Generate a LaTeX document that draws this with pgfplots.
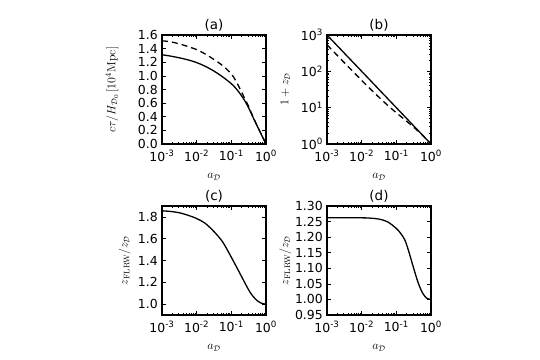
\documentclass[border=0pt]{standalone}
\usepackage[no-math]{fontspec}
\setmainfont{DejaVu Sans}
\usepackage{pgfplots}
\pgfplotsset{compat=1.18}
\pgfplotsset{
 myax/.style={
  scale only axis, width=104bp, height=109bp, anchor=south west,
  xmin=1e-3, xmax=1,
  xtick={1e-3,1e-2,1e-1,1},
  xticklabels={10\textsuperscript{-3},10\textsuperscript{-2},10\textsuperscript{-1},10\textsuperscript{0}},
  minor xtick={0.002,0.003,0.004,0.005,0.006,0.007,0.008,0.009,0.02,0.03,0.04,0.05,0.06,0.07,0.08,0.09,0.2,0.3,0.4,0.5,0.6,0.7,0.8,0.9},
  tick label style={font=\fontsize{12.5}{14}\selectfont, inner sep=0.5bp},
  xticklabel style={yshift=-5.5bp},
  yticklabel style={xshift=-3.5bp},
  major tick length=4bp, minor tick length=2bp,
  tick align=inside,
  axis line style={line width=1.1bp},
  every tick/.style={black, line width=0.7bp},
  title style={font=\fontsize{13.5}{15}\selectfont, at={(0.5,1)}, anchor=south, yshift=-6bp},
  xlabel={$a_{\mathcal{D}}$},
  xlabel style={at={(axis description cs:0.5,-0.30)}, anchor=center, font=\fontsize{12}{14}\selectfont},
  ylabel style={anchor=center, font=\fontsize{12}{14}\selectfont},
  cycle list={{black, mark=none}},
  every axis plot/.append style={line width=1.3bp, smooth, tension=0.5},
 },
}
\tikzset{dsh/.style={dash pattern=on 6bp off 4bp}}
\begin{document}
\begin{tikzpicture}
\path[use as bounding box] (0,0) rectangle (540bp,360bp);
% (a)
\begin{semilogxaxis}[myax, at={(162bp,216bp)}, title={(a)},
  ymin=0, ymax=1.6, ytick={0,0.2,0.4,0.6,0.8,1.0,1.2,1.4,1.6},
  yticklabels={0.0,0.2,0.4,0.6,0.8,1.0,1.2,1.4,1.6},
  ylabel={$c\tau/H_{\mathcal{D}_0}\,[10^4\mathrm{Mpc}]$},
  ylabel style={at={(axis description cs:-0.48,0.5)}}]
\addplot coordinates {(0.001,1.31) (0.001778,1.29) (0.003162,1.265) (0.005623,1.235) (0.01,1.195) (0.01778,1.14) (0.03162,1.07) (0.05623,0.985) (0.1,0.885) (0.1334,0.82) (0.1778,0.74) (0.2371,0.645) (0.3162,0.53) (0.3981,0.42) (0.5623,0.26) (0.7499,0.13) (1,0)};
\addplot+[dsh] coordinates {(0.001,1.515) (0.001778,1.50) (0.003162,1.47) (0.005623,1.43) (0.01,1.385) (0.01778,1.32) (0.03162,1.24) (0.05623,1.15) (0.1,1.03) (0.1334,0.93) (0.1778,0.81) (0.2371,0.68) (0.3162,0.55) (0.3981,0.43) (0.5623,0.26) (0.7499,0.13) (1,0)};
\end{semilogxaxis}
% (b)
\begin{loglogaxis}[myax, at={(327bp,216bp)}, title={(b)},
  ymin=1, ymax=1000, ytick={1,10,100,1000},
  yticklabels={10\textsuperscript{0},10\textsuperscript{1},10\textsuperscript{2},10\textsuperscript{3}},
  minor ytick={2,3,4,5,6,7,8,9,20,30,40,50,60,70,80,90,200,300,400,500,600,700,800,900},
  ylabel={$1+z_{\mathcal{D}}$},
  ylabel style={at={(axis description cs:-0.40,0.5)}}]
\addplot coordinates {(0.001,1000) (1,1)};
\addplot+[dsh] coordinates {(0.001,539) (0.001778,304.4) (0.003162,172.5) (0.005623,98.4) (0.01,56.5) (0.01778,32.7) (0.03162,19.3) (0.05623,11.6) (0.1,7.23) (0.1778,4.60) (0.3162,2.91) (0.5623,1.755) (1,1)};
\end{loglogaxis}
% (c)
\begin{semilogxaxis}[myax, at={(162bp,45bp)}, title={(c)},
  ymin=0.9, ymax=1.9, ytick={1.0,1.2,1.4,1.6,1.8},
  yticklabels={1.0,1.2,1.4,1.6,1.8},
  ylabel={$z_{\mathrm{FLRW}}/z_{\mathcal{D}}$},
  ylabel style={at={(axis description cs:-0.36,0.5)}}]
\addplot coordinates {(0.001,1.856) (0.001778,1.85) (0.003162,1.838) (0.005623,1.815) (0.01,1.785) (0.01778,1.74) (0.03162,1.665) (0.05623,1.57) (0.1,1.43) (0.1778,1.28) (0.3162,1.13) (0.4217,1.072) (0.5623,1.03) (0.7499,1.007) (1,1.0)};
\end{semilogxaxis}
% (d)
\begin{semilogxaxis}[myax, at={(327bp,45bp)}, title={(d)},
  ymin=0.95, ymax=1.30, ytick={0.95,1.00,1.05,1.10,1.15,1.20,1.25,1.30},
  yticklabels={0.95,1.00,1.05,1.10,1.15,1.20,1.25,1.30},
  ylabel={$z_{\mathrm{FLRW}}/z_{\mathcal{D}}$},
  ylabel style={at={(axis description cs:-0.40,0.5)}}]
\addplot coordinates {(0.001,1.262) (0.01,1.262) (0.01778,1.261) (0.03162,1.258) (0.05623,1.249) (0.1,1.228) (0.1334,1.212) (0.1778,1.19) (0.2371,1.148) (0.3162,1.10) (0.4217,1.055) (0.5623,1.022) (0.7499,1.004) (1,1.0)};
\end{semilogxaxis}
\end{tikzpicture}
\end{document}
